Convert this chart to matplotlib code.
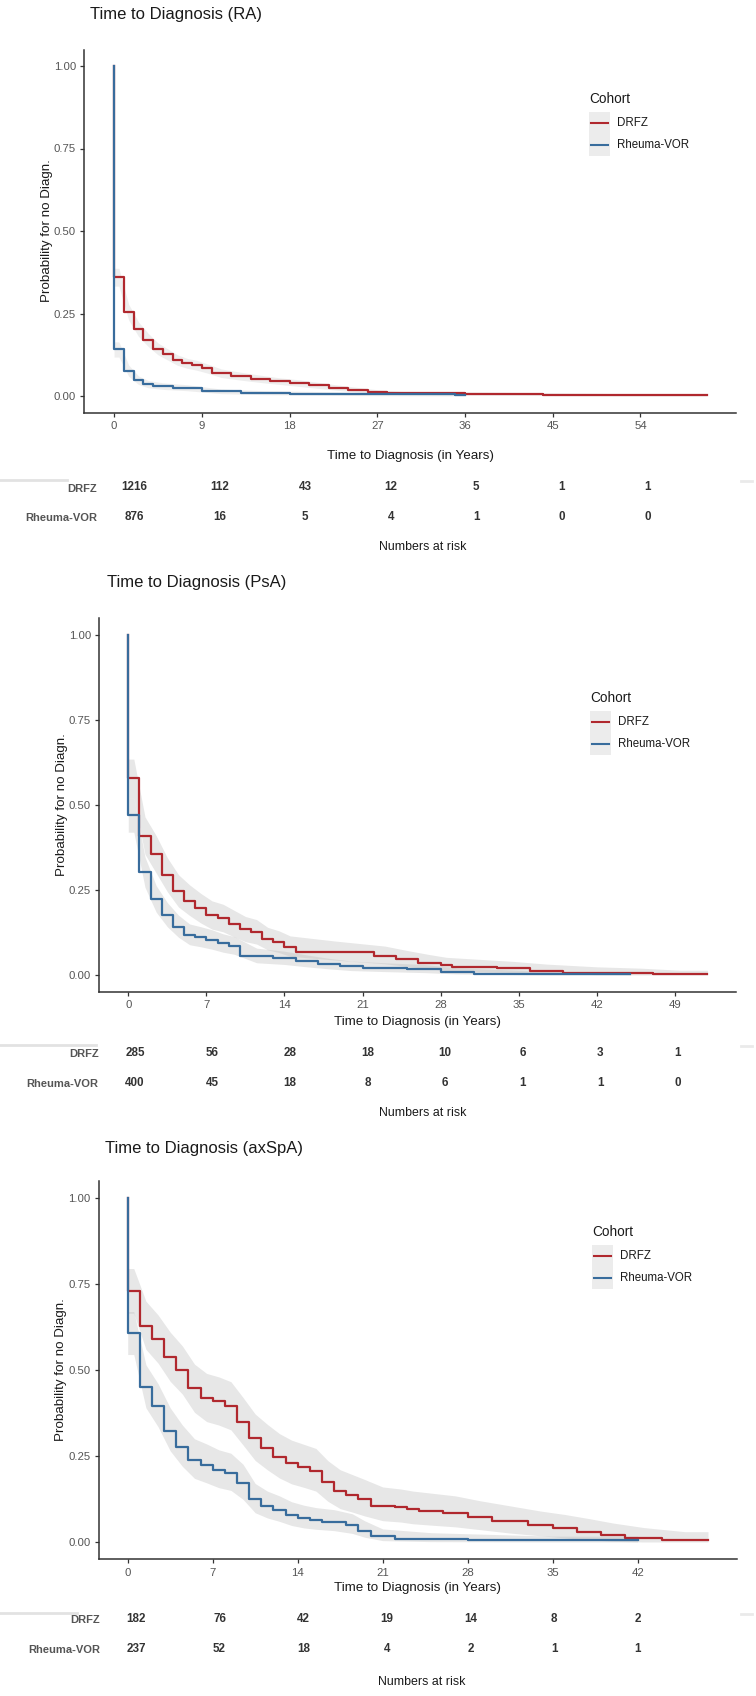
import matplotlib
matplotlib.use("Agg")
import matplotlib.pyplot as plt
from matplotlib.lines import Line2D
from matplotlib.patches import Rectangle

plt.rcParams["font.family"] = ["Liberation Sans", "DejaVu Sans"]

W, H = 756, 1696
RED = "#B0282E"
BLUE = "#386C9C"
BAND = "#BDBDBD"
COHORTS = ["DRFZ", "Rheuma-VOR"]

# ---------------- RA ----------------
ra_drfz_t = [0, 0, 1, 2, 3, 4, 5, 6, 7, 8, 9, 10, 12, 14, 16, 18, 20, 22, 24, 26, 28, 31, 36, 44, 60.8]
ra_drfz_s = [1, .36, .254, .203, .17, .143, .126, .109, .099, .093, .084, .069, .060, .052, .045,
             .039, .032, .025, .019, .013, .009, .008, .006, .003, .003]
ra_drfz_lo = [1, .333, .23, .181, .15, .125, .109, .093, .084, .078, .070, .056, .048, .041, .035,
              .029, .023, .017, .012, .007, .004, .003, .002, 0, 0]
ra_drfz_hi = [1, .387, .278, .225, .19, .161, .143, .125, .114, .108, .098, .082, .072, .063, .055,
              .049, .041, .033, .026, .019, .014, .013, .011, .007, .007]
ra_rv_t = [0, 0, 1, 2, 3, 4, 6, 9, 13, 18, 35, 36]
ra_rv_s = [1, .141, .077, .048, .036, .030, .025, .014, .010, .006, .002, .002]
ra_rv_lo = [1, .118, .06, .035, .025, .02, .016, .007, .004, .001, 0, 0]
ra_rv_hi = [1, .164, .094, .061, .047, .04, .034, .021, .016, .011, .005, .005]
ra_ticks = [0, 9, 18, 27, 36, 45, 54]
ra_risk_drfz = [1216, 112, 43, 12, 5, 1, 1]
ra_risk_rv = [876, 16, 5, 4, 1, 0, 0]

# ---------------- PsA ----------------
psa_drfz_t = [0, 0, 1, 2, 3, 4, 5, 6, 7, 8, 9, 10, 11, 12, 13, 14, 15,
              22, 24, 26, 28, 29, 33, 36, 39, 45, 47, 51.9]
psa_drfz_s = [1, .578, .41, .355, .294, .247, .219, .196, .176, .167, .150, .134, .126, .105, .096, .083, .069,
              .056, .046, .036, .029, .025, .020, .013, .007, .005, .002, .002]
psa_drfz_lo = [1, .52, .355, .30, .245, .20, .175, .153, .135, .127, .112, .098, .091, .074, .066, .055, .044,
               .033, .025, .018, .013, .010, .007, .004, .001, 0, 0, 0]
psa_drfz_hi = [1, .635, .465, .41, .345, .295, .265, .24, .218, .208, .19, .172, .163, .14, .13, .115, .10,
               .085, .072, .060, .052, .047, .040, .032, .024, .020, .014, .014]
psa_rv_t = [0, 0, 1, 2, 3, 4, 5, 6, 7, 8, 9, 10, 13, 15, 17, 19, 21, 25, 28, 31, 45]
psa_rv_s = [1, .47, .302, .223, .176, .142, .118, .111, .103, .093, .086, .056, .049, .040, .032, .026,
            .022, .018, .010, .003, .003]
psa_rv_lo = [1, .42, .258, .185, .142, .111, .089, .083, .076, .067, .061, .036, .031, .024, .018, .013,
             .010, .007, .003, 0, 0]
psa_rv_hi = [1, .52, .347, .263, .213, .176, .150, .142, .133, .121, .113, .079, .070, .059, .049, .041,
             .036, .031, .021, .010, .010]
psa_ticks = [0, 7, 14, 21, 28, 35, 42, 49]
psa_risk_drfz = [285, 56, 28, 18, 10, 6, 3, 1]
psa_risk_rv = [400, 45, 18, 8, 6, 1, 1, 0]

# ---------------- axSpA ----------------
ax_drfz_t = [0, 0, 1, 2, 3, 4, 5, 6, 7, 8, 9, 10, 11, 12, 13, 14, 15, 16, 17, 18, 19, 20,
             22, 23, 24, 26, 28, 30, 33, 35, 37, 39, 41, 44, 47.8]
ax_drfz_s = [1, .73, .629, .59, .539, .5, .447, .42, .41, .396, .35, .303, .274, .248, .23, .219, .207,
             .173, .149, .137, .124, .106,
             .101, .095, .09, .083, .072, .06, .048, .04, .03, .02, .012, .006, .006]
ax_drfz_lo = [1, .665, .56, .52, .467, .43, .377, .35, .34, .326, .282, .237, .21, .186, .169, .159, .148,
              .118, .097, .087, .076, .062,
              .058, .053, .049, .044, .036, .026, .018, .012, .006, .002, 0, 0, 0]
ax_drfz_hi = [1, .795, .70, .66, .61, .57, .517, .49, .48, .466, .42, .372, .342, .315, .296, .284, .272,
              .236, .21, .196, .182, .16,
              .154, .148, .142, .134, .12, .105, .09, .08, .068, .055, .042, .03, .03]
ax_rv_t = [0, 0, 1, 2, 3, 4, 5, 6, 7, 8, 9, 10, 11, 12, 13, 14, 15, 16, 18, 19, 20, 22, 28, 42]
ax_rv_s = [1, .608, .451, .396, .324, .277, .238, .224, .209, .2, .171, .124, .105, .093, .078, .069,
           .064, .059, .049, .033, .017, .010, .005, .005]
ax_rv_lo = [1, .545, .39, .335, .265, .22, .185, .172, .158, .15, .124, .085, .07, .06, .048, .041,
            .037, .033, .025, .014, .004, .001, 0, 0]
ax_rv_hi = [1, .67, .515, .46, .39, .34, .3, .285, .268, .258, .226, .17, .148, .134, .117, .107,
            .1, .094, .082, .062, .038, .027, .017, .017]
ax_ticks = [0, 7, 14, 21, 28, 35, 42]
ax_risk_drfz = [182, 76, 42, 19, 14, 8, 2]
ax_risk_rv = [237, 52, 18, 4, 2, 1, 1]


def fx(x):
    return x / W


def fy(y):
    return 1 - y / H


def px_axes(fig, left, top, right, bottom):
    return fig.add_axes([fx(left), fy(bottom), (right - left) / W, (bottom - top) / H])


def smooth_band(t, lo, hi):
    # ribbon points placed at the middle of each step so the soft band follows the curve
    xs = [t[1]] + [(a + b) / 2 for a, b in zip(t[1:-1], t[2:])] + [t[-1]]
    return xs, [lo[1]] + list(lo[1:-1]) + [lo[-1]], [hi[1]] + list(hi[1:-1]) + [hi[-1]]


def draw_panel(fig, title, curves, ticks, risk, lay):
    # --- survival plot ---
    ax = px_axes(fig, *lay["plot"])
    for t, s, lo, hi in curves:
        xs, bl, bh = smooth_band(t, lo, hi)
        ax.fill_between(xs, bl, bh, color=BAND, alpha=lay.get("band_alpha", 0.36), lw=0)
    for (t, s, lo, hi), col in zip(curves, [RED, BLUE]):
        ax.step(t, s, where="post", color=col, lw=1.6)
    tmax = max(curves[0][0][-1], curves[1][0][-1])
    ax.set_xlim(-0.05 * tmax, 1.05 * tmax)
    ax.set_ylim(-0.05, 1.05)
    ax.set_xticks(ticks)
    ax.set_yticks([0, .25, .5, .75, 1])
    ax.set_yticklabels(["0.00", "0.25", "0.50", "0.75", "1.00"])
    for sp in ["top", "right"]:
        ax.spines[sp].set_visible(False)
    for sp in ["left", "bottom"]:
        ax.spines[sp].set_color("#333333")
        ax.spines[sp].set_linewidth(1.1)
    ax.tick_params(length=3, width=0.9, color="#333333", labelcolor="#555555",
                   labelsize=8.2, pad=3)

    left, top, right, bottom = lay["plot"]
    fig.text(fx(lay["title"][0]), fy(lay["title"][1]), title, fontsize=12,
             ha="left", va="center", color="#1a1a1a")
    fig.text(fx(lay["ylab_x"]), fy((top + bottom) / 2), "Probability for no Diagn.",
             rotation=90, fontsize=9.6, ha="center", va="center", color="#1a1a1a")
    fig.text(fx((left + right) / 2), fy(lay["xlab_y"]), "Time to Diagnosis (in Years)",
             fontsize=9.6, ha="center", va="center", color="#1a1a1a")

    # --- legend ---
    lx, ly = lay["legend"]
    fig.text(fx(lx), fy(ly), "Cohort", fontsize=9.8, ha="left", va="center", color="#1a1a1a")
    for i, (lab, col) in enumerate(zip(COHORTS, [RED, BLUE])):
        yr = ly + 24 + 22 * i
        fig.add_artist(Rectangle((fx(lx), fy(yr + 11)), 21 / W, 22 / H,
                                 transform=fig.transFigure, facecolor="#ECECEC", edgecolor="none"))
        fig.add_artist(Line2D([fx(lx + 2), fx(lx + 19)], [fy(yr), fy(yr)],
                              transform=fig.transFigure, color=col, lw=1.5))
        fig.text(fx(lx + 28), fy(yr), lab, fontsize=8.3, ha="left", va="center", color="#1a1a1a")

    # --- numbers at risk table ---
    tl, tr, r1, r2 = lay["table"]
    half = (r2 - r1) / 2
    tax = px_axes(fig, tl, r1 - half, tr, r2 + half)
    tax.set_xlim(-0.05 * tmax, 1.05 * tmax)
    tax.set_ylim(-0.5, 1.5)
    for sp in tax.spines.values():
        sp.set_visible(False)
    tax.set_xticks([])
    tax.set_yticks([1, 0])
    tax.set_yticklabels(COHORTS, fontsize=8, fontweight="bold", color="#555555")
    tax.tick_params(axis="y", length=0, pad=5.5)
    for row, vals in zip([1, 0], risk):
        for t, n in zip(ticks, vals):
            tax.text(t, row, str(n), ha="center", va="center", fontsize=8.4,
                     fontweight="semibold", color="#333333")
    fig.text(fx((tl + tr) / 2), fy(lay["nar_y"]), "Numbers at risk", fontsize=8.9,
             ha="center", va="center", color="#1a1a1a")

    # faint strip left of the table (scan artefact)
    fig.add_artist(Line2D([0, fx(lay["strip"][1])], [fy(lay["strip"][0])] * 2,
                          transform=fig.transFigure, color="#E2E2E2", lw=2))
    fig.add_artist(Line2D([fx(741), fx(752)], [fy(lay["strip"][0] + 1)] * 2,
                          transform=fig.transFigure, color="#EAEAEA", lw=2))


fig = plt.figure(figsize=(W / 100, H / 100), dpi=100)
fig.patch.set_facecolor("white")

draw_panel(
    fig, "Time to Diagnosis (RA)",
    [(ra_drfz_t, ra_drfz_s, ra_drfz_lo, ra_drfz_hi), (ra_rv_t, ra_rv_s, ra_rv_lo, ra_rv_hi)],
    ra_ticks, [ra_risk_drfz, ra_risk_rv],
    dict(plot=(84.4, 49.5, 736.4, 412.5), title=(90, 15), ylab_x=46.7, xlab_y=455.5,
         legend=(589, 99), table=(105.1, 741.1, 487.5, 517), nar_y=547, strip=(480, 67),
         band_alpha=0.25),
)
draw_panel(
    fig, "Time to Diagnosis (PsA)",
    [(psa_drfz_t, psa_drfz_s, psa_drfz_lo, psa_drfz_hi), (psa_rv_t, psa_rv_s, psa_rv_lo, psa_rv_hi)],
    psa_ticks, [psa_risk_drfz, psa_risk_rv],
    dict(plot=(99.3, 618, 736.4, 992), title=(107, 583), ylab_x=61.6, xlab_y=1022,
         legend=(590, 698), table=(106.3, 738.7, 1053.3, 1082.7), nar_y=1113, strip=(1045, 96)),
)
draw_panel(
    fig, "Time to Diagnosis (axSpA)",
    [(ax_drfz_t, ax_drfz_s, ax_drfz_lo, ax_drfz_hi), (ax_rv_t, ax_rv_s, ax_rv_lo, ax_rv_hi)],
    ax_ticks, [ax_risk_drfz, ax_risk_rv],
    dict(plot=(98.7, 1180.8, 737, 1559.2), title=(105, 1148), ylab_x=61, xlab_y=1588,
         legend=(592, 1232), table=(107.4, 735.8, 1619.3, 1649.3), nar_y=1682, strip=(1613, 77)),
)

fig.savefig("out.png", dpi=100, facecolor="white")
